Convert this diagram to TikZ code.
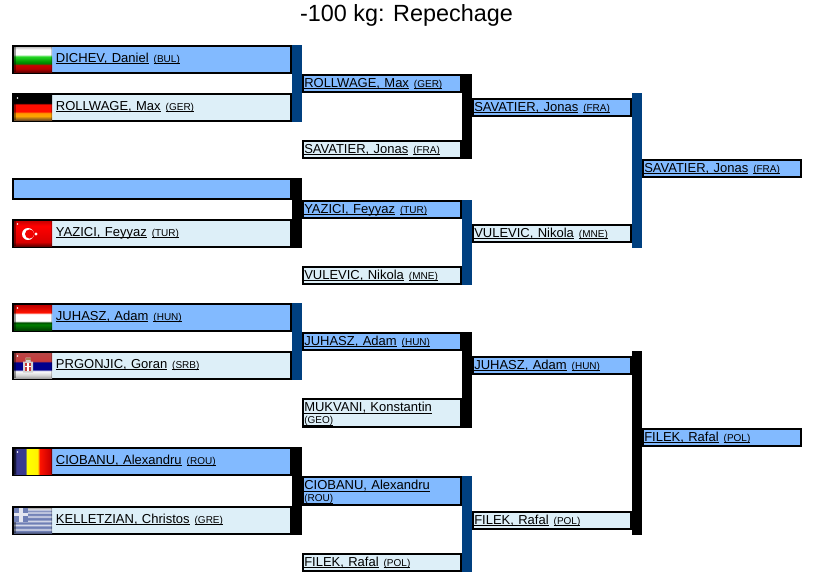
\documentclass[tikz,border=0pt]{standalone}
\usepackage{xcolor}
\usepackage{fontspec}
\setmainfont{Liberation Sans}
\usetikzlibrary{positioning, calc, fadings}

\definecolor{winfill}{HTML}{82BAFF}
\definecolor{losefill}{HTML}{DDEFF8}
\definecolor{barblue}{HTML}{004080}
\definecolor{greblue}{HTML}{6F7FB5}
\definecolor{grewhite}{HTML}{E4E6F0}
\definecolor{roublue}{HTML}{3A3A90}

% Flag stripes, bottom to top between 25bp and 75bp
\pgfdeclareverticalshading{flagbul}{100bp}{color(0bp)=(red!40!black); color(25bp)=(red!40!black); color(31bp)=(red!70!black); color(39bp)=(red!80!black); color(42bp)=(green!50!black); color(46bp)=(green!60!black); color(56bp)=(green!70!gray); color(60bp)=(white); color(70bp)=(white); color(75bp)=(gray!45); color(100bp)=(gray!45)}
\pgfdeclareverticalshading{flagger}{100bp}{color(0bp)=(brown!60!black); color(25bp)=(brown!60!black); color(33bp)=(orange!70!yellow); color(39bp)=(orange!80!yellow); color(42bp)=(red!90!orange); color(56bp)=(red!90!orange); color(59bp)=(black); color(100bp)=(black)}
\pgfdeclareverticalshading{flagtur}{100bp}{color(0bp)=(red!40!black); color(25bp)=(red!40!black); color(33bp)=(red!85!black); color(65bp)=(red); color(75bp)=(red!80!black); color(100bp)=(red!80!black)}
\pgfdeclareverticalshading{flaghun}{100bp}{color(0bp)=(green!25!black); color(25bp)=(green!25!black); color(36bp)=(green!50!black); color(40bp)=(green!30!black); color(43bp)=(white); color(57bp)=(white); color(60bp)=(red!85!orange); color(75bp)=(red!75!black); color(100bp)=(red!75!black)}
\pgfdeclareverticalshading{flagsrb}{100bp}{color(0bp)=(gray!70); color(25bp)=(gray!70); color(31bp)=(gray!30); color(39bp)=(white); color(42bp)=(blue!55!black); color(56bp)=(blue!55!black); color(59bp)=(red!55!gray); color(75bp)=(red!45!gray); color(100bp)=(red!45!gray)}
\pgfdeclareverticalshading{flaggre}{100bp}{color(0bp)=(greblue!70!black); color(25bp)=(greblue!70!black); color(29bp)=(greblue); color(32bp)=(grewhite); color(35bp)=(greblue); color(38bp)=(greblue); color(41bp)=(grewhite); color(44bp)=(greblue); color(46bp)=(greblue); color(49bp)=(grewhite); color(52bp)=(greblue); color(55bp)=(greblue); color(58bp)=(grewhite); color(61bp)=(greblue); color(63bp)=(greblue); color(66bp)=(grewhite); color(69bp)=(greblue); color(72bp)=(grewhite); color(75bp)=(gray!60); color(100bp)=(gray!60)}
\pgfdeclarehorizontalshading{flagrou}{100bp}{color(0bp)=(roublue!50!black); color(25bp)=(roublue!50!black); color(29bp)=(roublue); color(40bp)=(roublue); color(42bp)=(yellow); color(56bp)=(yellow!90!orange); color(59bp)=(red!85!orange); color(72bp)=(red!80!black); color(75bp)=(red!50!black); color(100bp)=(red!50!black)}

% Underlined link text, the rule keeps clear of the descenders' depth
\newcommand{\lnk}[1]{\vtop{\hbox{\smash{#1}}\kern1pt\hrule height 1pt}}
\newcommand{\player}[2]{\lnk{#1}\hspace{5pt}{\fontsize{10}{12}\selectfont\lnk{(#2)}}}
\newcommand{\playertwo}[2]{\vtop{\offinterlineskip\hbox{\lnk{#1}}\kern10pt\hbox{\fontsize{10}{12}\selectfont\lnk{(#2)}}}}

\begin{document}
\begin{tikzpicture}[
    x=1pt, y=-1pt,
    every node/.style={font=\fontsize{13}{15}\selectfont},
    pbox/.style={draw=black, line width=2pt, inner ysep=0pt, inner xsep=0pt, outer sep=0pt, align=left, text height=11pt, text depth=4pt},
    roundone/.style={pbox, minimum width=278pt, text width=192pt, inner xsep=43pt, minimum height=27pt, text height=10pt, text depth=5pt},
    roundon/.style={pbox, minimum width=158pt, text width=155.5pt, minimum height=17pt},
    tallbox/.style={minimum height=28pt, text height=11pt, text depth=13.6pt},
    winner/.style={fill=winfill},
    loser/.style={fill=losefill},
    flag/.style={anchor=west, xshift=1pt, minimum width=38pt, minimum height=25pt, inner sep=0pt, outer sep=0pt, shade,
        path picture={
            \fill[black, opacity=.4, path fading=east] (path picture bounding box.north west) rectangle ($(path picture bounding box.south west)+(2,0)$);
            \fill[black, opacity=.4, path fading=west] ($(path picture bounding box.north east)+(-2,0)$) rectangle (path picture bounding box.south east);
            \fill[white] ($(path picture bounding box.north west)+(3.5,3)$) circle (0.9pt);
        }},
    bluebar/.style={fill=barblue},
    blackbar/.style={fill=black}
]
    \useasboundingbox (0,0) rectangle (828,579);

    \node[anchor=base, font=\fontsize{23.4}{26}\selectfont] (title) at (406.5,21) {-100 kg: Repechage};

    % First column
    \node[roundone, winner, anchor=north west] (dichev) at (13,46) {\player{DICHEV, Daniel}{BUL}};
    \node[roundone, loser, below=21pt of dichev] (rollwage_a) {\player{ROLLWAGE, Max}{GER}};
    \node[roundone, winner, below=58pt of rollwage_a, minimum height=20pt, text height=0pt, text depth=0pt] (bye) {};
    \node[roundone, loser, below=21pt of bye] (yazici_a) {\player{YAZICI, Feyyaz}{TUR}};
    \node[roundone, winner, below=57pt of yazici_a] (juhasz_a) {\player{JUHASZ, Adam}{HUN}};
    \node[roundone, loser, below=21pt of juhasz_a] (prgonjic) {\player{PRGONJIC, Goran}{SRB}};
    \node[roundone, winner, below=69pt of prgonjic] (ciobanu_a) {\player{CIOBANU, Alexandru}{ROU}};
    \node[roundone, loser, below=32pt of ciobanu_a] (kelletzian) {\player{KELLETZIAN, Christos}{GRE}};

    % Second column
    \node[roundon, winner, anchor=north west] (rollwage_b) at (303,75) {\player{ROLLWAGE, Max}{GER}};
    \node[roundon, loser, below=49pt of rollwage_b] (savatier_b) {\player{SAVATIER, Jonas}{FRA}};
    \node[roundon, winner, below=43pt of savatier_b] (yazici_b) {\player{YAZICI, Feyyaz}{TUR}};
    \node[roundon, loser, below=49pt of yazici_b] (vulevic_b) {\player{VULEVIC, Nikola}{MNE}};
    \node[roundon, winner, below=49pt of vulevic_b] (juhasz_b) {\player{JUHASZ, Adam}{HUN}};
    \node[roundon, tallbox, loser, below=49pt of juhasz_b] (mukvani) {\playertwo{MUKVANI, Konstantin}{GEO}};
    \node[roundon, tallbox, winner, below=50pt of mukvani] (ciobanu_b) {\playertwo{CIOBANU, Alexandru}{ROU}};
    \node[roundon, loser, below=49pt of ciobanu_b] (filek_b) {\player{FILEK, Rafal}{POL}};

    % Third column
    \node[roundon, winner, anchor=north west] (savatier_c) at (473,99) {\player{SAVATIER, Jonas}{FRA}};
    \node[roundon, loser, below=109pt of savatier_c] (vulevic_c) {\player{VULEVIC, Nikola}{MNE}};
    \node[roundon, winner, below=115pt of vulevic_c] (juhasz_c) {\player{JUHASZ, Adam}{HUN}};
    \node[roundon, loser, below=138pt of juhasz_c] (filek_c) {\player{FILEK, Rafal}{POL}};

    % Last column
    \node[roundon, winner, anchor=north west] (savatier_d) at (643,160) {\player{SAVATIER, Jonas}{FRA}};
    \node[roundon, winner, below=252pt of savatier_d] (filek_d) {\player{FILEK, Rafal}{POL}};

    % Bars joining each pair
    \fill[bluebar] ($(dichev.north east)+(1,-1)$) rectangle ($(rollwage_a.south east)+(11,1)$);
    \fill[blackbar] ($(bye.north east)+(1,-1)$) rectangle ($(yazici_a.south east)+(11,1)$);
    \fill[bluebar] ($(juhasz_a.north east)+(1,-1)$) rectangle ($(prgonjic.south east)+(11,1)$);
    \fill[blackbar] ($(ciobanu_a.north east)+(1,-1)$) rectangle ($(kelletzian.south east)+(11,1)$);
    \fill[blackbar] ($(rollwage_b.north east)+(1,-1)$) rectangle ($(savatier_b.south east)+(11,1)$);
    \fill[bluebar] ($(yazici_b.north east)+(1,-1)$) rectangle ($(vulevic_b.south east)+(11,1)$);
    \fill[blackbar] ($(juhasz_b.north east)+(1,-1)$) rectangle ($(mukvani.south east)+(11,1)$);
    \fill[bluebar] ($(ciobanu_b.north east)+(1,-1)$) rectangle ($(filek_b.south east)+(11,1)$);
    \fill[bluebar] ($(savatier_c.north east)+(1,-6)$) rectangle ($(vulevic_c.south east)+(11,6)$);
    \fill[blackbar] ($(juhasz_c.north east)+(1,-6)$) rectangle ($(filek_c.south east)+(11,6)$);

    % Flags
    \node[flag, shading=flagbul] (flag_bul) at (dichev.west) {};
    \node[flag, shading=flagger] (flag_ger) at (rollwage_a.west) {};
    \node[flag, shading=flagtur] (flag_tur) at (yazici_a.west) {};
    \node[flag, shading=flaghun] (flag_hun) at (juhasz_a.west) {};
    \node[flag, shading=flagsrb] (flag_srb) at (prgonjic.west) {};
    \node[flag, shading=flagrou] (flag_rou) at (ciobanu_a.west) {};
    \node[flag, shading=flaggre] (flag_gre) at (kelletzian.west) {};

    % Crescent and star
    \begin{scope}[shift={(flag_tur.center)}]
        \fill[white] (-5,0.5) circle (6pt);
        \fill[red!95!black] (-3.4,0.5) circle (4.6pt);
        \fill[white] (3,0.5) circle (1.6pt);
    \end{scope}
    % Serbian arms
    \begin{scope}[shift={(flag_srb.center)}]
        \fill[gray!35] (-10,-4) rectangle (0,7) (-7.5,-8) rectangle (-2.5,-4);
        \fill[brown!65!gray] (-7.5,-8) rectangle (-2.5,-5.5);
        \fill[red!55!gray] (-8,-3) rectangle (-2,5);
        \fill[white] (-5.6,-3) rectangle (-4.4,5);
        \fill[white] (-8,0) rectangle (-2,1.2);
    \end{scope}
    % Greek canton
    \begin{scope}[shift={(flag_gre.center)}]
        \fill[greblue] (-19,-12.5) rectangle (-5,1.5);
        \fill[grewhite] (-14,-12.5) rectangle (-10.5,1.5);
        \fill[grewhite] (-19,-8) rectangle (-5,-5);
    \end{scope}

\end{tikzpicture}
\end{document}
